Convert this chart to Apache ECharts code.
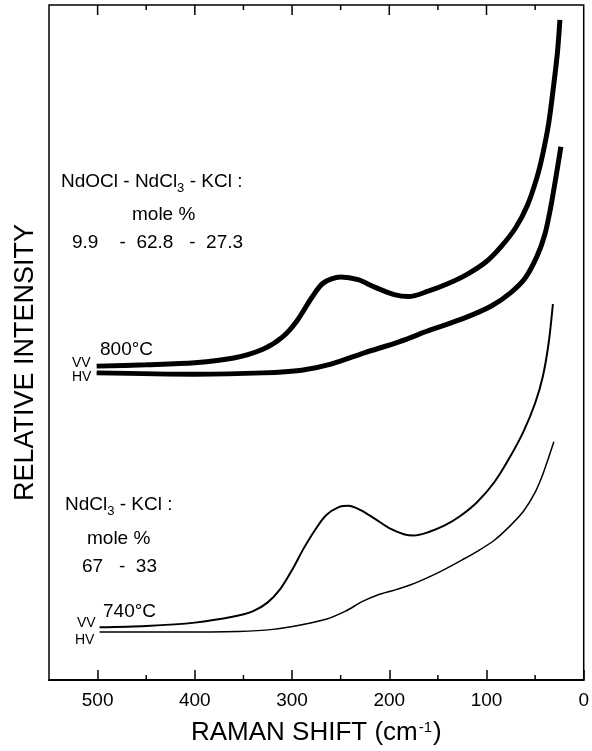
<!DOCTYPE html>
<html>
<head>
<meta charset="utf-8">
<script src="https://cdn.jsdelivr.net/npm/echarts@6/dist/echarts.min.js"></script>
<style>
html,body{margin:0;padding:0;background:#fff;}
#chart{width:592px;height:751px;}
</style>
</head>
<body>
<div id="chart"></div>
<script>
// Raman shift (cm-1) vs relative intensity (arbitrary units, 0-100)
const vv800 = [[501,46.5],[450,46.7],[400,47.0],[360,47.7],[330,49.0],[310,50.8],[295,53.2],[280,56.6],[268,58.8],[250,59.7],[232,59.3],[215,58.2],[195,57.1],[180,56.8],[160,57.6],[140,58.7],[120,60.1],[100,62.0],[85,64.2],[70,67.0],[58,70.3],[48,74.5],[42,78.0],[36,82.5],[31,88.0],[27,93.0],[24.5,97.8]];
const hv800 = [[501,45.5],[400,45.3],[330,45.5],[290,45.9],[260,46.8],[225,48.5],[190,50.1],[157,51.9],[123,53.6],[95,55.4],[75,57.4],[60,59.6],[48,62.8],[40,66.0],[34,70.0],[28,75.0],[23.5,79.0]];
const vv740 = [[498,7.8],[450,8.0],[400,8.5],[360,9.4],[340,10.2],[325,11.5],[312,13.5],[300,16.3],[288,19.5],[276,22.3],[265,24.4],[252,25.6],[242,25.8],[230,25.2],[215,23.9],[200,22.5],[185,21.6],[175,21.4],[160,21.9],[143,22.9],[127,24.3],[110,26.3],[92,29.3],[76,33.0],[62,36.8],[50,41.0],[42,45.0],[36,50.0],[31.7,55.7]];
const hv740 = [[498,7.1],[420,7.1],[355,7.2],[320,7.5],[290,8.2],[265,9.0],[245,10.2],[228,11.6],[212,12.6],[195,13.3],[178,14.1],[160,15.2],[143,16.4],[125,17.8],[109,19.1],[92,20.7],[76,22.8],[62,25.0],[50,27.8],[42,30.5],[36,33.0],[30.7,35.3]];
const majorTicks = [100, 200, 300, 400, 500];
const minorTicks = [50, 150, 250, 350, 450];

const FONT = 'Liberation Sans, Arial, sans-serif';
const chart = echarts.init(document.getElementById('chart'), null, {renderer:'canvas'});

const Y_MIN = 0, Y_MAX = 100;
const GRID = {left:49, right:5, top:5, bottom:69};
const PLOT_H = 751 - GRID.top - GRID.bottom;
const pxToY = px => px / PLOT_H * (Y_MAX - Y_MIN);

// tick marks as short line series, placed through the axis scales
function tickLines(values, side, lenPx){
  const len = pxToY(lenPx);
  return values.map(v => ({
    type:'line', silent:true, showSymbol:false, animation:false, z:5,
    lineStyle:{color:'#000', width:1.5}, tooltip:{show:false},
    data: side === 'top' ? [[v, Y_MAX], [v, Y_MAX - len]] : [[v, Y_MIN], [v, Y_MIN + len]]
  }));
}

const lineBase = {type:'line', showSymbol:false, smooth:0.3};
const option = {
  backgroundColor:'#fff',
  animation:false,
  grid:Object.assign({show:true, borderColor:'#000', borderWidth:1.5, backgroundColor:'transparent'}, GRID),
  xAxis:{
    type:'value', min:0, max:550, interval:100, inverse:true, position:'bottom',
    axisLine:{show:true, onZero:false, lineStyle:{color:'#000', width:2}},
    axisTick:{show:true, inside:true, length:10, lineStyle:{color:'#000', width:1.5}},
    axisLabel:{show:true, color:'#000', fontSize:19, fontFamily:FONT, margin:11, showMaxLabel:false},
    splitLine:{show:false},
    name:'{a|RAMAN SHIFT (cm}{s|-1}{a|)}', nameLocation:'middle', nameGap:40,
    nameTextStyle:{color:'#000', fontFamily:FONT, fontSize:26,
      rich:{a:{fontSize:26, fontFamily:FONT, color:'#000'}, s:{fontSize:15, fontFamily:FONT, color:'#000', verticalAlign:'top', padding:[0,1,0,1]}}}
  },
  yAxis:{
    type:'value', min:Y_MIN, max:Y_MAX, axisLine:{show:false}, axisTick:{show:false}, axisLabel:{show:false}, splitLine:{show:false},
    name:'RELATIVE INTENSITY', nameLocation:'middle', nameRotate:90, nameGap:10,
    nameTextStyle:{color:'#000', fontFamily:FONT, fontSize:27, padding:[0,40,0,0]}
  },
  series:[
    Object.assign({name:'VV 800', data:vv800, lineStyle:{color:'#000', width:5}}, lineBase),
    Object.assign({name:'HV 800', data:hv800, lineStyle:{color:'#000', width:5}}, lineBase),
    Object.assign({name:'VV 740', data:vv740, lineStyle:{color:'#000', width:2}}, lineBase),
    Object.assign({name:'HV 740', data:hv740, lineStyle:{color:'#000', width:1.5}}, lineBase)
  ].concat(tickLines(minorTicks, 'bottom', 5), tickLines(majorTicks, 'top', 10), tickLines(minorTicks, 'top', 5)),
  graphic:[]
};

function txt(x, y, text, size, rich){
  return {type:'text', x:x, y:y, z:100, silent:true,
    style:{text:text, fill:'#000', fontSize:size, fontFamily:FONT, verticalAlign:'middle', textVerticalAlign:'middle', align:'left', textAlign:'left', rich: rich||undefined}};
}
const subRich = {sub:{fontSize:13, fontFamily:FONT, fill:'#000', padding:[12,0,0,0]}};
option.graphic = [
  txt(61, 182, 'NdOCl - NdCl{sub|3} - KCl :', 19, subRich),
  txt(132, 215, 'mole %', 19),
  txt(72, 243, '9.9    -  62.8   -  27.3', 19),
  txt(100, 350, '800°C', 19),
  txt(72, 363, 'VV', 14),
  txt(72, 377, 'HV', 14),
  txt(65, 505, 'NdCl{sub|3} - KCl :', 19, subRich),
  txt(87, 539, 'mole %', 19),
  txt(82, 567, '67   -  33', 19),
  txt(103, 612, '740°C', 19),
  txt(77, 623, 'VV', 14),
  txt(75, 640, 'HV', 14)
];

chart.setOption(option);
</script>
</body>
</html>
